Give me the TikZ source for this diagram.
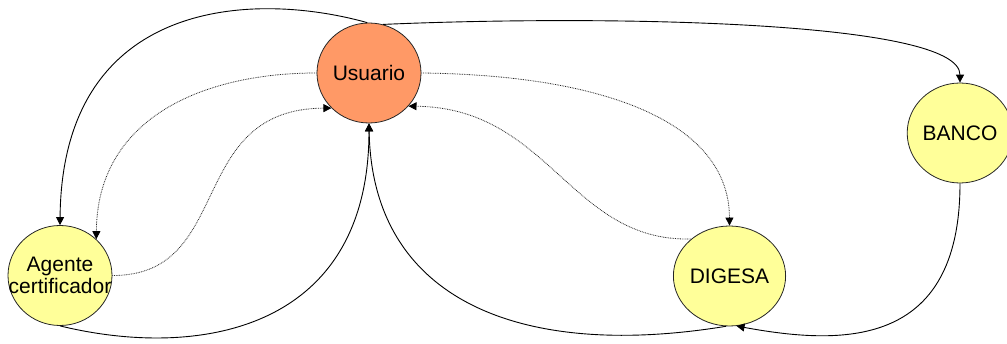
\documentclass[tikz,border=0pt]{standalone}
\usepackage{fontspec}
\setmainfont{Liberation Sans}
\usetikzlibrary{arrows.meta,shapes.geometric}
\definecolor{usr}{HTML}{FF9966}
\definecolor{ylw}{HTML}{FFFF99}
\tikzset{
  ent/.style={ellipse,draw=black!85,line width=0.8pt,minimum width=104pt,minimum height=100pt,inner sep=0pt,align=center,font=\fontsize{21}{22}\selectfont},
  solidarrow/.style={draw=black,line width=0.9pt,-{Triangle[length=8pt,width=8pt]}},
  dotarrow/.style={draw=black!85,line width=0.8pt,dash pattern=on 0.8pt off 0.9pt,-{Triangle[length=8pt,width=8pt,color=black,fill=black]}}
}
\begin{document}
\begin{tikzpicture}[x=1pt,y=-1pt]
\useasboundingbox (0,0) rectangle (1007,344);
\node[ent,fill=usr] (U) at (369,73) {Usuario};
\node[ent,fill=ylw] (A) at (60,275.5) {\makebox[0pt]{Agente}\\\makebox[0pt]{certificador}};
\node[ent,fill=ylw] (D) at (729.5,276) {DIGESA};
\node[ent,fill=ylw] (B) at (960,133) {BANCO};
% solid connectors
\draw[solidarrow] (U.92) .. controls (250,-10) and (62,0) .. (A.90);
\draw[solidarrow] (U.74) .. controls (600,15) and (960,20) .. (B.90);
\draw[solidarrow] (A.270) .. controls (200,360) and (369,330) .. (U.270);
\draw[solidarrow] (D.266) .. controls (520,360) and (372,300) .. (U.270);
\draw[solidarrow] (B.270) .. controls (960,350) and (840,345) .. (D.278);
% dotted connectors
\draw[dotarrow] (U.180) .. controls (200,73) and (97,120) .. (A.45);
\draw[dotarrow] (A.0) .. controls (235,276) and (185,109) .. (U.223);
\draw[dotarrow] (U.0) .. controls (600,75) and (729,120) .. (D.90);
\draw[dotarrow] (D.136) .. controls (570,242) and (550,108) .. (U.320);
\end{tikzpicture}
\end{document}
